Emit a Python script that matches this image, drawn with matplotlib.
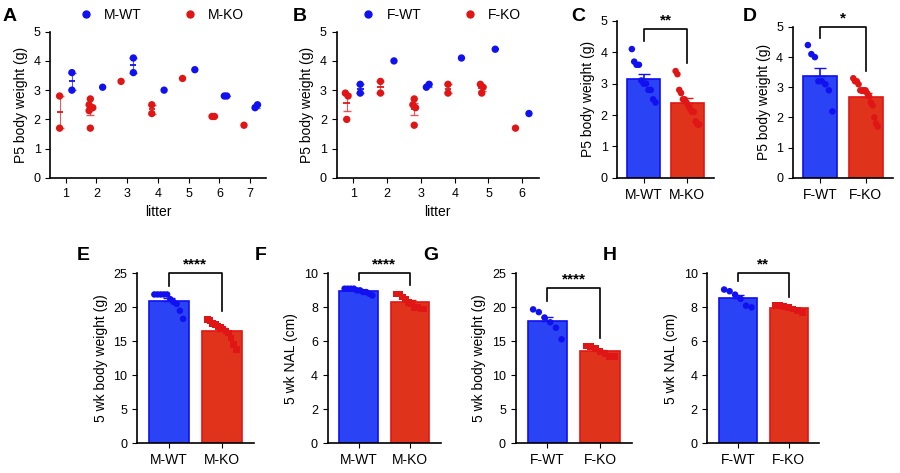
import numpy as np
import matplotlib as mpl
mpl.use('Agg')
import matplotlib.pyplot as plt

plt.rcParams['font.family'] = ['Liberation Sans', 'DejaVu Sans']
plt.rcParams['font.size'] = 9

BLUE = '#1010f0'
RED = '#e01515'
BAR_BLUE = '#2a44f5'
BAR_RED = '#e0331b'

# P5 body weight by litter (males)
m_litters = [1, 2, 3, 4, 5, 6, 7]
m_ko = [[2.8, 1.7], [2.7, 2.5, 2.3, 2.4, 1.7], [3.3], [2.5, 2.2], [3.4], [2.1, 2.1], [1.8]]
m_wt = [[3.6, 3.0], [3.1], [4.1, 3.6], [3.0], [3.7], [2.8, 2.8], [2.4, 2.5]]

# P5 body weight by litter (females)
f_litters = [1, 2, 3, 4, 5, 6]
f_ko = [[2.9, 2.8, 2.0], [3.3, 2.9], [2.7, 2.5, 2.4, 1.8], [3.2, 2.9], [3.2, 2.9, 3.1], [1.7]]
f_wt = [[3.2, 2.9], [4.0], [3.1, 3.2], [4.1], [4.4], [2.2]]

# 5 week measurements
e_wt = [21.9, 21.9, 21.9, 21.9, 21.9, 21.2, 20.8, 20.5, 19.5, 18.3]
e_ko = [18.2, 18.1, 17.6, 17.5, 17.2, 17.0, 16.8, 16.5, 16.2, 15.5, 14.5, 13.8]
f_nal_wt = [9.1, 9.1, 9.1, 9.0, 9.0, 8.9, 8.9, 8.8, 8.7, 9.1]
f_nal_ko = [8.8, 8.8, 8.6, 8.5, 8.3, 8.2, 8.0, 7.9, 7.9, 8.0]
g_wt = [19.7, 19.3, 18.5, 17.8, 17.0, 15.3]
g_ko = [14.3, 14.2, 14.0, 13.5, 13.2, 12.8, 12.8]
h_wt = [9.05, 8.95, 8.75, 8.5, 8.1, 8.0]
h_ko = [8.1, 8.1, 8.05, 8.0, 7.9, 7.8, 7.7]


def sem(v):
    v = np.asarray(v)
    return v.std(ddof=1) / np.sqrt(len(v)) if len(v) > 1 else 0


def style(ax):
    for s in ['top', 'right']:
        ax.spines[s].set_visible(False)
    ax.spines['left'].set_linewidth(1.2)
    ax.spines['bottom'].set_linewidth(1.2)


def litter_panel(ax, litters, ko, wt, labels, ylab_x):
    for lit, grp_ko, grp_wt in zip(litters, ko, wt):
        for off, grp, c in [(-0.2, grp_ko, RED), (0.2, grp_wt, BLUE)]:
            vals = np.asarray(grp)
            xs = np.full(len(vals), lit + off)
            # nudge points with near-equal values apart
            for i in range(len(vals)):
                close = [j for j in range(len(vals)) if abs(vals[j] - vals[i]) < 0.15]
                if len(close) > 1:
                    xs[i] += (close.index(i) - (len(close) - 1) / 2) * 0.08
            ax.scatter(xs, vals, s=28, color=c, zorder=3, edgecolors='none')
            m = vals.mean()
            ax.hlines(m, lit + off - 0.1, lit + off + 0.1, color=c, lw=1.3, zorder=2)
            if len(vals) > 1:
                ax.errorbar(lit + off, m, yerr=sem(vals), fmt='none', ecolor=c,
                            capsize=3, lw=0.8, alpha=0.7, zorder=2)
    style(ax)
    ax.set_ylim(0, 5)
    ax.set_xlim(litters[0] - 0.5, litters[-1] + 0.5)
    ax.set_xticks(litters)
    ax.set_yticks(range(6))
    ax.set_xlabel('litter', fontsize=10)
    ax.set_ylabel('P5 body weight (g)', fontsize=10)
    h = [plt.Line2D([0], [0], marker='o', ls='', color=BLUE, markersize=5),
         plt.Line2D([0], [0], marker='o', ls='', color=RED, markersize=5)]
    ax.legend(h, labels, ncol=2, frameon=False, loc='lower center',
              bbox_to_anchor=(0.5, 0.98), fontsize=10, handletextpad=0.3,
              columnspacing=2.5)


def bar_panel(ax, wt, ko, labels, ylab, ymax, yticks, stars, marker='o', bracket_y=None):
    for i, (vals, fc, pc) in enumerate([(wt, BAR_BLUE, BLUE), (ko, BAR_RED, RED)]):
        vals = np.asarray(vals)
        m = vals.mean()
        ax.bar(i, m, width=0.75, color=fc, edgecolor=pc, lw=1.2, zorder=1)
        ax.errorbar(i, m, yerr=[[0], [sem(vals)]], fmt='none', ecolor=pc,
                    capsize=4, lw=1.2, zorder=2)
        order = np.argsort(-vals)
        xs = np.linspace(-0.27, 0.27, len(vals))
        ax.scatter(i + xs, vals[order], s=22, color=pc, marker=marker,
                   zorder=3, edgecolors='none')
    style(ax)
    ax.set_xlim(-0.6, 1.6)
    ax.set_ylim(0, ymax)
    ax.set_yticks(yticks)
    ax.set_xticks([0, 1])
    ax.set_xticklabels(labels, fontsize=10)
    ax.set_ylabel(ylab, fontsize=10)
    top = bracket_y if bracket_y else ymax * 0.98
    hi0 = max(wt) + ymax * 0.05
    hi1 = max(ko) + ymax * 0.05
    ax.plot([0, 0, 1, 1], [hi0, top, top, hi1], color='black', lw=1.2, clip_on=False)
    ax.text(0.5, top + ymax * 0.01, stars, ha='center', va='bottom', fontsize=11,
            fontweight='bold')


fig = plt.figure(figsize=(9, 4.73), dpi=100)

axA = fig.add_axes([0.056, 0.624, 0.239, 0.309])
litter_panel(axA, m_litters, m_ko, m_wt, ['M-WT', 'M-KO'], 0)
axB = fig.add_axes([0.374, 0.624, 0.225, 0.309])
litter_panel(axB, f_litters, f_ko, f_wt, ['F-WT', 'F-KO'], 0)

axC = fig.add_axes([0.686, 0.624, 0.107, 0.332])
bar_panel(axC, [v for g in m_wt for v in g], [v for g in m_ko for v in g],
          ['M-WT', 'M-KO'], 'P5 body weight (g)', 5, range(6), '**', bracket_y=4.75)
axD = fig.add_axes([0.881, 0.624, 0.111, 0.319])
bar_panel(axD, [v for g in f_wt for v in g], [v for g in f_ko for v in g],
          ['F-WT', 'F-KO'], 'P5 body weight (g)', 5, range(6), '*', bracket_y=5.0)

axE = fig.add_axes([0.152, 0.063, 0.130, 0.359])
bar_panel(axE, e_wt, e_ko, ['M-WT', 'M-KO'], '5 wk body weight (g)', 25,
          range(0, 26, 5), '****', marker='o', bracket_y=25)
axE.collections[-1].set_paths([mpl.markers.MarkerStyle('s').get_path()
                               .transformed(mpl.markers.MarkerStyle('s').get_transform())])
axF = fig.add_axes([0.364, 0.063, 0.126, 0.359])
bar_panel(axF, f_nal_wt, f_nal_ko, ['M-WT', 'M-KO'], '5 wk NAL (cm)', 10,
          range(0, 11, 2), '****', bracket_y=10)
axG = fig.add_axes([0.573, 0.063, 0.129, 0.359])
bar_panel(axG, g_wt, g_ko, ['F-WT', 'F-KO'], '5 wk body weight (g)', 25,
          range(0, 26, 5), '****', bracket_y=22.8)
axH = fig.add_axes([0.786, 0.063, 0.124, 0.359])
bar_panel(axH, h_wt, h_ko, ['F-WT', 'F-KO'], '5 wk NAL (cm)', 10,
          range(0, 11, 2), '**', bracket_y=10)
for ax in [axF, axG, axH]:
    sq = mpl.markers.MarkerStyle('s')
    ax.collections[-1].set_paths([sq.get_path().transformed(sq.get_transform())])

for lab, x, y in [('A', 0.003, 0.965), ('B', 0.325, 0.965), ('C', 0.635, 0.965),
                  ('D', 0.825, 0.965), ('E', 0.085, 0.46), ('F', 0.283, 0.46),
                  ('G', 0.47, 0.46), ('H', 0.67, 0.46)]:
    fig.text(x, y, lab, fontsize=14, fontweight='bold', va='center')

fig.savefig('out.png', dpi=100)
